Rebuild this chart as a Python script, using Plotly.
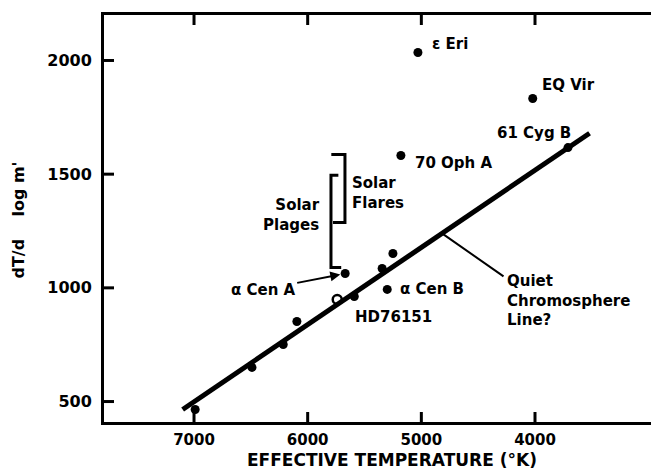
import numpy as np
import plotly.graph_objects as go

# ---------------- data ----------------
labeled_names = ["ε Eri", "EQ Vir", "61 Cyg B", "70 Oph A", "α Cen A", "α Cen B", "HD76151"]
labeled_teff = [5030, 4020, 3710, 5180, 5670, 5300, 5590]
labeled_grad = [2035, 1833, 1617, 1582, 1063, 993, 962]

other_teff = [5250, 5345, 6095, 6215, 6490, 6990]
other_grad = [1151, 1085, 852, 751, 650, 465]

sun_teff = [5740]
sun_grad = [949]

line_teff = [7100, 3520]
line_grad = [465, 1680]

plages_range = [1090, 1495]
flares_range = [1287, 1587]
plages_teff = 5795
flares_teff = 5672

x_ticks = [7000, 6000, 5000, 4000]
y_ticks = [500, 1000, 1500, 2000]

X_RANGE = [7792, 2909]

# ---------------- figure ----------------
FONT = "DejaVu Sans"
fig = go.Figure()

fig.add_trace(go.Scatter(x=line_teff, y=line_grad, mode="lines",
                         line=dict(color="black", width=5), hoverinfo="skip"))
fig.add_trace(go.Scatter(x=labeled_teff, y=labeled_grad, mode="markers",
                         marker=dict(color="black", size=9)))
fig.add_trace(go.Scatter(x=other_teff, y=other_grad, mode="markers",
                         marker=dict(color="black", size=9)))
fig.add_trace(go.Scatter(x=sun_teff, y=sun_grad, mode="markers",
                         marker=dict(symbol="circle-open", color="black", size=9,
                                     line=dict(width=2.5, color="black"))))

# brackets
f_top, f_bot = flares_range[1], flares_range[0]
p_top, p_bot = plages_range[1], plages_range[0]
fig.add_shape(type="path", xref="x", yref="y",
              path=f"M {flares_teff+120},{f_top} L {flares_teff},{f_top} L {flares_teff},{f_bot} L {flares_teff+105},{f_bot}",
              line=dict(color="black", width=3))
fig.add_shape(type="path", xref="x", yref="y",
              path=f"M {plages_teff-65},{p_top} L {plages_teff},{p_top} L {plages_teff},{p_bot} L {plages_teff-90},{p_bot}",
              line=dict(color="black", width=3))

# inward tick marks (bottom, top, left, and the cut-off right edge)
tick_style = dict(color="black", width=3)
for t in x_ticks:
    fig.add_shape(type="line", xref="x", yref="paper", ysizemode="pixel", yanchor=0,
                  x0=t, x1=t, y0=0, y1=10, line=tick_style)
    fig.add_shape(type="line", xref="x", yref="paper", ysizemode="pixel", yanchor=1,
                  x0=t, x1=t, y0=0, y1=-10, line=tick_style)
for g in y_ticks:
    fig.add_shape(type="line", xref="paper", yref="y", xsizemode="pixel", xanchor=0,
                  x0=0, x1=10, y0=g, y1=g, line=tick_style)
    fig.add_shape(type="line", xref="paper", yref="y", xsizemode="pixel", xanchor=1,
                  x0=-3, x1=0, y0=g, y1=g, line=dict(color="black", width=2))

annotations = []
label_style = {
    "ε Eri": (12, 9, "left"),
    "EQ Vir": (7, 13, "left"),
    "61 Cyg B": (5, 15, "right"),
    "70 Oph A": (12, -7, "left"),
    "α Cen B": (11, 0, "left"),
    "HD76151": (-1, -21, "left"),
}
for name, t, g in zip(labeled_names, labeled_teff, labeled_grad):
    if name in label_style:
        dx, dy, anc = label_style[name]
        annotations.append(dict(x=t, y=g, text=name, showarrow=False, xshift=dx, yshift=dy,
                                xanchor=anc, yanchor="middle", font=dict(size=15)))
    elif name == "α Cen A":
        annotations.append(dict(x=t, y=g, text=name, showarrow=True, ax=-82, ay=16,
                                arrowhead=2, arrowsize=1, arrowwidth=2, arrowcolor="black",
                                standoff=5, font=dict(size=15)))

# solar labels
annotations.append(dict(x=flares_teff, y=np.mean(flares_range), text="Solar<br>Flares",
                        showarrow=False, xanchor="left", yanchor="middle", align="left",
                        xshift=5, yshift=-5, font=dict(size=15)))
annotations.append(dict(x=plages_teff, y=np.mean(plages_range), text="Solar<br>Plages",
                        showarrow=False, xanchor="right", yanchor="middle", align="right",
                        xshift=-9, yshift=6, font=dict(size=15)))

# quiet chromosphere pointer
q_t = 4818
q_g = float(np.interp(q_t, line_teff[::-1], line_grad[::-1]))
annotations.append(dict(x=q_t, y=q_g, text="", showarrow=True, ax=63, ay=44,
                        arrowhead=0, arrowwidth=2, arrowcolor="black"))
annotations.append(dict(x=q_t, y=q_g, text="Quiet<br>Chromosphere<br>Line?", showarrow=False,
                        xanchor="left", yanchor="middle", align="left",
                        xshift=63, yshift=-67, font=dict(size=15)))

# axis titles
annotations.append(dict(xref="paper", yref="paper", x=0.519, y=0, yshift=-38,
                        text="EFFECTIVE TEMPERATURE (°K)", showarrow=False,
                        xanchor="center", yanchor="middle", font=dict(size=17)))
annotations.append(dict(xref="paper", yref="paper", x=0, y=0.495, xshift=-85,
                        text="dT/d    log m'", showarrow=False, textangle=-90,
                        xanchor="center", yanchor="middle", font=dict(size=16)))

fig.update_layout(
    width=651, height=462,
    margin=dict(l=96, r=0, t=7, b=48),
    paper_bgcolor="white", plot_bgcolor="white",
    showlegend=False,
    font=dict(family=FONT, size=16, color="black", weight="bold"),
    annotations=annotations,
)
fig.update_xaxes(range=X_RANGE, tickvals=x_ticks, ticktext=[str(v) for v in x_ticks],
                 ticks="", showline=True, linewidth=3, linecolor="black", mirror=True,
                 showgrid=False, zeroline=False, ticklabelstandoff=2,
                 tickfont=dict(size=15))
fig.update_yaxes(range=[410, 2200], tickvals=y_ticks, ticktext=[str(v) for v in y_ticks],
                 ticks="", showline=True, linewidth=3, linecolor="black",
                 showgrid=False, zeroline=False, ticklabelstandoff=6)

fig.write_html("out.html")
